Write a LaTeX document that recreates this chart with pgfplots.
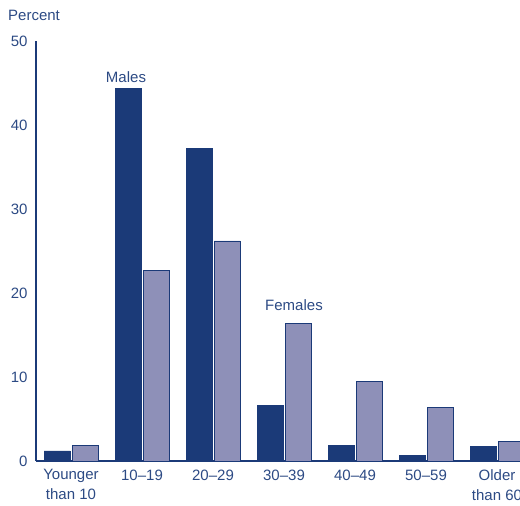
\documentclass[border=0pt]{standalone}
\usepackage{pgfplots}
\pgfplotsset{compat=1.18}
\usepackage{fontspec}
\setmainfont{Liberation Sans}
\definecolor{navy}{HTML}{1B3A78}
\definecolor{lav}{HTML}{8E90B8}
\definecolor{txt}{HTML}{2C4A84}
\begin{document}
\begin{tikzpicture}
\begin{axis}[
  name=main,
  scale only axis, width=484pt, height=420pt,
  xmin=-0.493, xmax=6.324, ymin=0, ymax=50,
  axis x line*=bottom, axis y line*=left,
  axis line style={navy, line width=1.3pt, -},
  ytick={0,10,...,50},
  xtick={0,1,2,3,4,5,6},
  xticklabels={{Younger\\than 10},{10--19},{20--29},{30--39},{40--49},{50--59},{Older\\than 60}},
  major tick length=0pt,
  tick label style={font=\fontsize{15}{20}\selectfont, text=txt},
  xticklabel style={align=center, anchor=north, yshift=-5pt},
  yticklabel style={anchor=east, xshift=-5pt},
  /pgf/number format/assume math mode=true,
  ybar, bar width=26pt,
  clip=false,
]
\addplot[bar shift=-14pt, fill=navy, draw=navy, line width=0.8pt] coordinates {(0,1.2) (1,44.3) (2,37.2) (3,6.6) (4,1.9) (5,0.7) (6,1.7)};
\addplot[bar shift=14pt, fill=lav, draw=navy, line width=0.8pt] coordinates {(0,1.9) (1,22.7) (2,26.2) (3,16.4) (4,9.5) (5,6.4) (6,2.3)};
\node[anchor=base, text=txt, font=\fontsize{15}{18}\selectfont, yshift=6pt, xshift=-16pt] at (axis cs:1,44.3) {Males};
\node[anchor=base, text=txt, font=\fontsize{15}{18}\selectfont, yshift=13pt, xshift=10pt] at (axis cs:3,16.4) {Females};
\node[anchor=west, text=txt, font=\fontsize{15}{18}\selectfont, xshift=-28pt, yshift=26pt, inner sep=0pt] at (rel axis cs:0,1) {Percent};
\end{axis}
\pgfresetboundingbox
\path[use as bounding box] ([xshift=-36pt,yshift=-45pt]main.south west) rectangle ([xshift=484pt,yshift=461pt]main.south west);
\end{tikzpicture}
\end{document}
